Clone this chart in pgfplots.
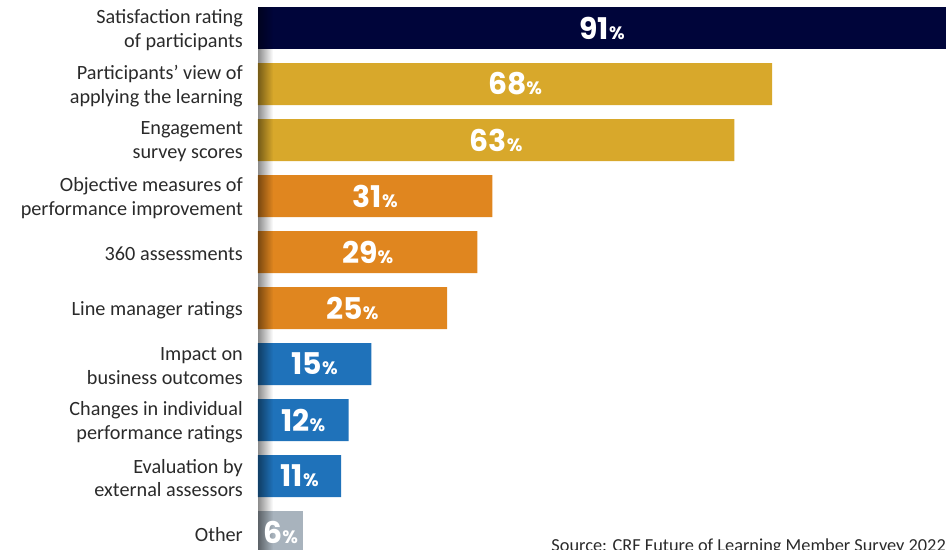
\documentclass[border=0pt]{standalone}
\usepackage{fontspec}
\setmainfont{Carlito}
\newfontfamily\numfont{Poppins}
\usepackage{pgfplots}
\pgfplotsset{compat=1.18}
\usepackage{pgfplotstable}
\usetikzlibrary{fadings}
\definecolor{cnavy}{HTML}{00053A}
\definecolor{cgold}{HTML}{D8A82B}
\definecolor{corange}{HTML}{E0861F}
\definecolor{cblue}{HTML}{1F72BA}
\definecolor{cgray}{HTML}{A8B3BD}
\definecolor{labelgray}{HTML}{2A2A2A}
\pgfplotstableread{
i v
0 91
1 68
2 63
3 31
4 29
5 25
6 15
7 12
8 11
9 6
}\datatable
\begin{document}
\begin{tikzpicture}
\begin{axis}[
  name=ax,
  scale only axis, width=693bp, height=550bp,
  xmin=0, xmax=91.66, ymin=-0.5, ymax=9.32, y dir=reverse,
  enlargelimits=false, clip=false,
  axis line style={draw=none},
  xtick=\empty,
  ytick={0,...,9},
  yticklabels={{Satisfaction rating\\of participants},{Participants’ view of\\applying the learning},{Engagement\\survey scores},{Objective measures of\\performance improvement},{360 assessments},{Line manager ratings},{Impact on\\business outcomes},{Changes in individual\\performance ratings},{Evaluation by\\external assessors},{Other}},
  major tick length=0pt, tick style={draw=none},
  yticklabel style={align=right, font=\fontsize{20.3}{24}\selectfont, text=labelgray, inner sep=0pt, xshift=-15bp, yshift=-2bp},
  mybar/.style={xbar, bar width=0.75, bar shift=0pt, draw=none, fill=#1},
]
\addplot[mybar=cnavy] coordinates {(91,0)};
\addplot[mybar=cgold] coordinates {(68,1) (63,2)};
\addplot[mybar=corange] coordinates {(31,3) (29,4) (25,5)};
\addplot[mybar=cblue] coordinates {(15,6) (12,7) (11,8)};
\addplot[mybar=cgray] coordinates {(6,9)};
\fill[black, path fading=east, opacity=0.45] (axis cs:0,-0.375) rectangle ([xshift=15bp]axis cs:0,9.5);
\addplot[draw=none, mark=none, point meta=explicit symbolic,
  nodes near coords={\numfont\bfseries\fontsize{30}{30}\selectfont\pgfplotspointmeta{\fontsize{18}{18}\selectfont\%}},
  nodes near coords style={anchor=center, text=white, inner sep=0pt}]
  table[x expr=\thisrow{v}/2, y=i, meta=v] {\datatable};
\node[anchor=north east, inner sep=0pt, font=\fontsize{18.4}{20}\selectfont, text=labelgray] at (axis cs:91,9.107) {Source: CRF Future of Learning Member Survey 2022};
\path (rel axis cs:0,0) coordinate (sw) (rel axis cs:1,1) coordinate (ne);
\end{axis}
\pgfresetboundingbox
\path ([xshift=-258bp]sw) rectangle (ne);
\end{tikzpicture}
\end{document}
